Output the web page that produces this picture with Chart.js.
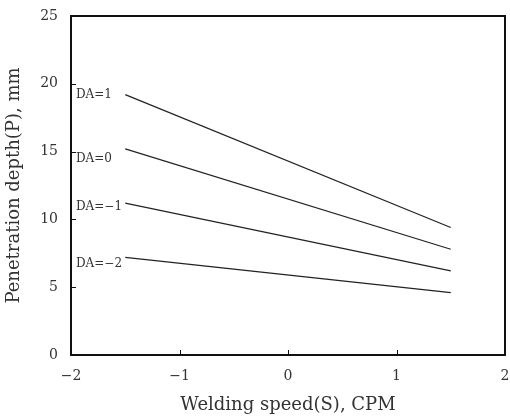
<!DOCTYPE html>
<html>
<head>
<meta charset="utf-8">
<script src="https://cdn.jsdelivr.net/npm/chart.js@4"></script>
<style>
  html, body { margin: 0; padding: 0; background: #fff; overflow: hidden; }
  #wrap { position: relative; width: 510px; height: 420px; }
  canvas { display: block; }
</style>
</head>
<body>
<div id="wrap"><canvas id="lineChart"></canvas></div>
<script>
// welding speed (coded) at the two ends of each line
const speedPoints = [-1.5, 1.5];
// penetration depth for each DA level
const depthDA1 = [19.2, 9.4];
const depthDA0 = [15.2, 7.8];
const depthDAm1 = [11.2, 6.2];
const depthDAm2 = [7.2, 4.6];
const seriesLabels = ["DA=1", "DA=0", "DA=\u22121", "DA=\u22122"];
const xTicks = [-2, -1, 0, 1, 2];
const yTicks = [0, 5, 10, 15, 20, 25];

const FONT = "'DejaVu Serif', serif";

function toPoints(values) {
  return values.map((v, i) => ({ x: speedPoints[i], y: v }));
}

// tick padding would otherwise push the plot area in from the edges
function clearPadding(scale) {
  scale.paddingTop = 0;
  scale.paddingBottom = 0;
  scale.paddingLeft = 0;
  scale.paddingRight = 0;
}

// frame, inward tick marks and the DA labels next to each line
const framePlugin = {
  id: "frame",
  afterDraw(chart) {
    const ctx = chart.ctx;
    const a = chart.chartArea;
    const xs = chart.scales.x;
    const ys = chart.scales.y;
    ctx.save();
    ctx.strokeStyle = "#111";
    ctx.lineWidth = 2;
    ctx.strokeRect(a.left, a.top, a.right - a.left, a.bottom - a.top);

    ctx.lineWidth = 1;
    ctx.beginPath();
    yTicks.slice(1, -1).forEach(v => {
      const py = Math.round(ys.getPixelForValue(v)) + 0.5;
      ctx.moveTo(a.left, py);
      ctx.lineTo(a.left + 5, py);
    });
    xTicks.slice(1, -1).forEach(v => {
      const px = Math.round(xs.getPixelForValue(v)) + 0.5;
      ctx.moveTo(px, a.bottom);
      ctx.lineTo(px, a.bottom - 5);
    });
    ctx.stroke();

    // labels sit just inside the left axis
    const nudge = [0, 10, 4, 7];
    ctx.fillStyle = "#333";
    ctx.font = "12px " + FONT;
    ctx.textAlign = "left";
    ctx.textBaseline = "middle";
    chart.data.datasets.forEach((ds, i) => {
      const py = ys.getPixelForValue(ds.data[0].y) + nudge[i];
      ctx.fillText(ds.label, a.left + 5, py);
    });
    ctx.restore();
  }
};

const lineStyle = {
  borderColor: "#222",
  borderWidth: 1.2,
  pointRadius: 0,
  fill: false,
  tension: 0
};

const ctx = document.getElementById("lineChart").getContext("2d");
new Chart(ctx, {
  type: "line",
  data: {
    datasets: [
      { label: seriesLabels[0], data: toPoints(depthDA1), ...lineStyle },
      { label: seriesLabels[1], data: toPoints(depthDA0), ...lineStyle },
      { label: seriesLabels[2], data: toPoints(depthDAm1), ...lineStyle },
      { label: seriesLabels[3], data: toPoints(depthDAm2), ...lineStyle },
    ],
  },
  options: {
    responsive: true,
    maintainAspectRatio: false,
    animation: false,
    layout: { padding: { top: 16, right: 5, bottom: 0, left: 0 } },
    plugins: {
      legend: { display: false },
      tooltip: { enabled: false },
    },
    scales: {
      x: {
        type: "linear",
        min: -2,
        max: 2,
        afterFit: (scale) => { scale.height = 65; clearPadding(scale); },
        afterBuildTicks: (scale) => { scale.ticks = xTicks.map(v => ({ value: v })); },
        grid: { display: false, drawTicks: false },
        border: { display: false },
        ticks: {
          padding: 13,
          color: "#333",
          font: { family: FONT, size: 14 },
          callback: (v) => String(v).replace("-", "\u2212"),
        },
        title: {
          display: true,
          text: "Welding speed(S), CPM",
          color: "#333",
          font: { family: FONT, size: 18 },
        },
      },
      y: {
        type: "linear",
        min: 0,
        max: 25,
        afterFit: (scale) => { scale.width = 71; clearPadding(scale); },
        afterBuildTicks: (scale) => { scale.ticks = yTicks.map(v => ({ value: v })); },
        grid: { display: false, drawTicks: false },
        border: { display: false },
        ticks: {
          padding: 13,
          color: "#333",
          font: { family: FONT, size: 14 },
        },
        title: {
          display: true,
          text: "Penetration depth(P), mm",
          color: "#333",
          font: { family: FONT, size: 18 },
        },
      },
    },
  },
  plugins: [framePlugin],
});
</script>
</body>
</html>
